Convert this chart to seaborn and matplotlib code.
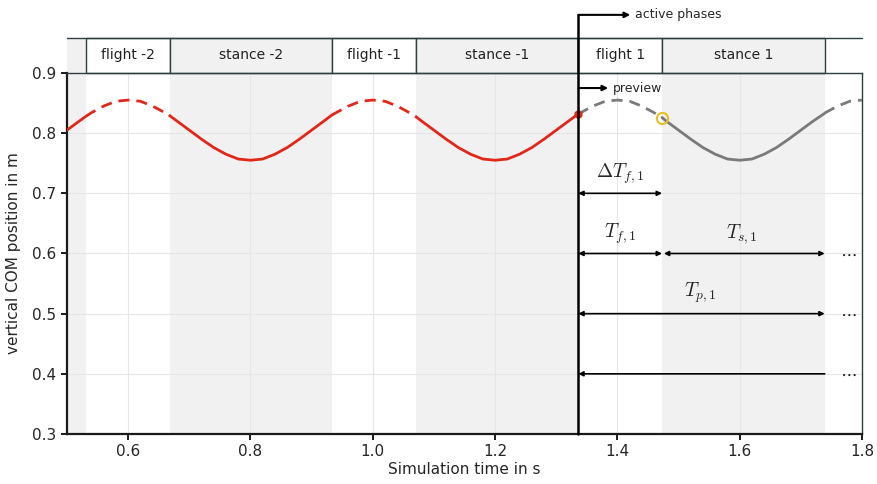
import numpy as np
import pandas as pd
import seaborn as sns
import matplotlib.pyplot as plt
from matplotlib.patches import Rectangle
import matplotlib.transforms as mtransforms

## DATA
time_s = [0.50, 0.52, 0.531, 0.54, 0.56, 0.58, 0.60, 0.62, 0.64, 0.66, 0.668,
          0.68, 0.70, 0.72, 0.74, 0.76, 0.78, 0.80, 0.82, 0.84, 0.86, 0.88, 0.90,
          0.92, 0.933, 0.94, 0.96, 0.98, 1.00, 1.02, 1.04, 1.06, 1.071,
          1.08, 1.10, 1.12, 1.14, 1.16, 1.18, 1.20, 1.22, 1.24, 1.26, 1.28, 1.30,
          1.32, 1.336, 1.34, 1.36, 1.38, 1.40, 1.42, 1.44, 1.46, 1.473,
          1.48, 1.50, 1.52, 1.54, 1.56, 1.58, 1.60, 1.62, 1.64, 1.66, 1.68, 1.70,
          1.72, 1.739, 1.74, 1.76, 1.78, 1.80]
com_z = [0.805, 0.820, 0.828, 0.834, 0.845, 0.853, 0.855, 0.853, 0.845, 0.834, 0.829,
         0.820, 0.805, 0.790, 0.776, 0.765, 0.757, 0.755, 0.757, 0.765, 0.776, 0.790, 0.805,
         0.820, 0.830, 0.834, 0.845, 0.853, 0.855, 0.853, 0.845, 0.834, 0.827,
         0.820, 0.805, 0.790, 0.776, 0.765, 0.757, 0.755, 0.757, 0.765, 0.776, 0.790, 0.805,
         0.820, 0.832, 0.834, 0.845, 0.853, 0.855, 0.853, 0.845, 0.834, 0.826,
         0.820, 0.805, 0.790, 0.776, 0.765, 0.757, 0.755, 0.757, 0.765, 0.776, 0.790, 0.805,
         0.820, 0.833, 0.834, 0.845, 0.853, 0.855]

phase_names = ['flight -2', 'stance -2', 'flight -1', 'stance -1', 'flight 1', 'stance 1']
phase_bounds = [0.531, 0.668, 0.933, 1.071, 1.336, 1.473, 1.739]
t_now = 1.336

df = pd.DataFrame({'t': time_s, 'z': com_z})

## STYLE
sns.set_theme(style='whitegrid', rc={'grid.color': '#e6e6e6', 'grid.linewidth': 0.8})
plt.rcParams['font.family'] = ['DejaVu Sans']
plt.rcParams['mathtext.fontset'] = 'cm'

fig = plt.figure(figsize=(8.78, 4.84), dpi=100)
ax = fig.add_axes([0.0763, 0.1033, 0.9055, 0.7459])
ax.set_facecolor('white')

## SHADING (stance phases gray)
gray = '#f1f1f1'
edges = [0.5] + phase_bounds + [1.8]
for i in range(len(edges) - 1):
    stance = (i % 2 == 0)
    if stance and i < len(edges) - 2:
        ax.axvspan(edges[i], edges[i + 1], color=gray, zorder=0, lw=0)

## CURVE SEGMENTS
red = '#e0281a'
grey_line = '#7a7a7a'
for i in range(len(edges) - 1):
    seg = df[(df['t'] >= edges[i]) & (df['t'] <= edges[i + 1])]
    flight = (i % 2 == 1)
    color = red if edges[i + 1] <= t_now else grey_line
    ls = (0, (4, 2.5)) if flight else '-'
    sns.lineplot(data=seg, x='t', y='z', color=color, lw=2.0, linestyle=ls,
                 ax=ax, zorder=3, sort=False, estimator=None)

z_now = df.loc[df['t'] == t_now, 'z'].iloc[0]
z_td = df.loc[df['t'] == phase_bounds[5], 'z'].iloc[0]
ax.plot([t_now], [z_now], 'o', color=red, ms=5, zorder=4)
ax.plot([phase_bounds[5]], [z_td], 'o', mfc='none', mec='#e8c020', mew=1.5, ms=8, zorder=4)

## AXES
ax.set_xlim(0.5, 1.8)
ax.set_ylim(0.3, 0.9)
ax.set_xticks([0.6, 0.8, 1.0, 1.2, 1.4, 1.6, 1.8])
ax.set_yticks([0.3, 0.4, 0.5, 0.6, 0.7, 0.8, 0.9])
ax.tick_params(axis='both', labelsize=11, length=4, color='black', left=True, bottom=True)
ax.set_xlabel('Simulation time in s', fontsize=11, labelpad=2)
ax.set_ylabel('vertical COM position in m', fontsize=11, labelpad=8)
for side in ['left', 'bottom']:
    ax.spines[side].set_color('#1a1a1a')
    ax.spines[side].set_linewidth(1.6)
for side in ['top', 'right']:
    ax.spines[side].set_color('#2f3f3f')
    ax.spines[side].set_linewidth(1.0)

## PHASE HEADER
trans = mtransforms.blended_transform_factory(ax.transData, ax.transAxes)
h0, h1 = 1.0, 1.097
box_edge = '#2f3f3f'
ax.add_patch(Rectangle((0.5, h0), edges[1] - 0.5, h1 - h0, transform=trans,
                       facecolor=gray, edgecolor='none', clip_on=False))
for i, name in enumerate(phase_names):
    x0, x1 = phase_bounds[i], phase_bounds[i + 1]
    fc = 'white' if name.startswith('flight') else gray
    ax.add_patch(Rectangle((x0, h0), x1 - x0, h1 - h0, transform=trans,
                           facecolor=fc, edgecolor=box_edge, lw=1.0, clip_on=False))
    ax.text((x0 + x1) / 2, (h0 + h1) / 2, name, transform=trans, ha='center',
            va='center', fontsize=10, color='#222222')
ax.plot([0.5, 1.8], [h1, h1], transform=trans, color=box_edge, lw=1.0, clip_on=False)

## CURRENT TIME MARKER AND ARROWS
ax.plot([t_now, t_now], [0, 1.161], transform=trans, color='black', lw=1.8,
        clip_on=False, zorder=5)
ax.annotate('', xy=(1.421, 1.161), xytext=(t_now, 1.161), xycoords=trans,
            arrowprops=dict(arrowstyle='-|>', color='black', lw=1.5,
                            mutation_scale=8, shrinkA=0, shrinkB=0), annotation_clip=False)
ax.text(1.428, 1.161, 'active phases', transform=trans, va='center', fontsize=9)
ax.annotate('', xy=(1.385, 0.875), xytext=(t_now, 0.875),
            arrowprops=dict(arrowstyle='-|>', color='black', lw=1.5,
                            mutation_scale=8, shrinkA=0, shrinkB=0))
ax.text(1.392, 0.875, 'preview', va='center', fontsize=9)

dbl = dict(arrowstyle='<|-|>', color='black', lw=1.2, mutation_scale=7, shrinkA=0, shrinkB=0)
t_f_end, t_s_end = phase_bounds[5], phase_bounds[6]
ax.annotate('', xy=(t_f_end, 0.7), xytext=(t_now, 0.7), arrowprops=dbl)
ax.annotate('', xy=(t_f_end, 0.6), xytext=(t_now, 0.6), arrowprops=dbl)
ax.annotate('', xy=(t_s_end, 0.6), xytext=(t_f_end + 0.003, 0.6), arrowprops=dbl)
ax.annotate('', xy=(t_s_end, 0.5), xytext=(t_now, 0.5), arrowprops=dbl)
ax.annotate('', xy=(t_now, 0.4), xytext=(t_s_end, 0.4),
            arrowprops=dict(dbl, arrowstyle='-|>'))

ax.text(1.404, 0.732, r'$\Delta T_{f,1}$', ha='center', va='center', fontsize=14)
ax.text(1.404, 0.632, r'$T_{f,1}$', ha='center', va='center', fontsize=14)
ax.text(1.604, 0.632, r'$T_{s,1}$', ha='center', va='center', fontsize=14)
ax.text(1.535, 0.534, r'$T_{p,1}$', ha='center', va='center', fontsize=14)
for yy in [0.6, 0.5, 0.4]:
    ax.text(1.777, yy, r'$\cdots$', ha='center', va='center', fontsize=13)

fig.savefig('out.png', dpi=100)
